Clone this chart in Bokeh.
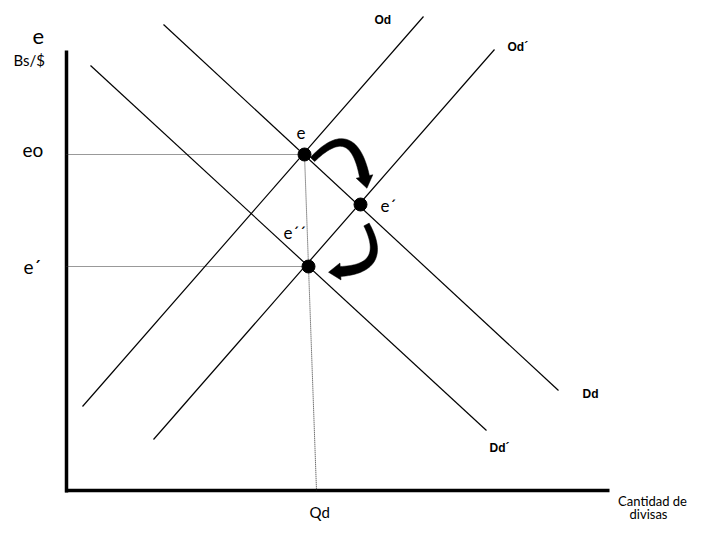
import numpy as np
from bokeh.plotting import figure
from bokeh.models import Range1d
from bokeh.embed import file_html
from bokeh.resources import INLINE
from bokeh.core.properties import value

# ---- diagram data (diagram units, origin at the axes corner) ----
axis_x_end = 543
axis_y_end = 440

curve_names = ["Dd", "Dd\u00b4", "Od", "Od\u00b4"]
curve_x0 = [97, 24, 16, 87]
curve_y0 = [466, 425, 84, 51]
curve_x1 = [492, 420, 357, 428]
curve_y1 = [100, 60, 474, 441]

curve_label_x = [516, 423, 308, 441]
curve_label_y = [93, 39, 467, 440]

eq_names = ["e", "e\u00b4", "e\u00b4\u00b4"]
eq_x = [238, 294, 242]
eq_y = [336, 286, 224]
eq_label_x = [230, 314, 217]
eq_label_y = [353, 280, 253]

# dotted guide lines
guide_x0 = [0, 0, 238]
guide_y0 = [336, 224, 336]
guide_x1 = [238, 242, 250]
guide_y1 = [336, 224, 0]

# axis texts
axis_texts = ["e", "Bs/$", "eo", "e\u00b4"]
axis_text_x = [-34, -53, -44, -43]
axis_text_y = [447, 426, 335, 218]
axis_text_size = [22, 15, 19, 19]

qd_text = "Qd"
qd_x, qd_y = 243, -26
xlabel_lines = ["Cantidad de", "divisas"]
xlabel_x = [586, 582]
xlabel_y = [-14, -27]

# curved arrows: start, control, end (diagram units)
arrows = [
    dict(p0=(246, 331), c=(286, 372), p1=(298, 314)),
    dict(p0=(300, 266), c=(323, 222), p1=(274, 219)),
]

BASE_SHIFT = 0.3  # compensates the renderer's baseline offset (fraction of font size)


def lift(ys, size):
    return [y + BASE_SHIFT * size for y in ys]


W, H = 690, 524
p = figure(width=W, height=H, output_backend="svg", toolbar_location=None,
           x_range=Range1d(-66, 624), y_range=Range1d(-34, 490),
           min_border=0, background_fill_color="white")
p.axis.visible = False
p.grid.visible = False
p.outline_line_color = None

# axes
p.line([0, 0], [-2, axis_y_end], line_color="black", line_width=3.5)
p.line([-1.5, axis_x_end], [0, 0], line_color="black", line_width=3.5)

# guides
p.segment(guide_x0, guide_y0, guide_x1, guide_y1, line_color="#333333",
          line_width=1, line_dash="1 1")

# supply/demand curves
p.segment(curve_x0, curve_y0, curve_x1, curve_y1, line_color="black", line_width=1.2)

# curve labels
p.text(curve_label_x, lift(curve_label_y, 12), text=curve_names,
       text_font=value("Liberation Sans"), text_font_style="bold",
       text_font_size="12px", text_align="left", text_baseline="alphabetic",
       text_color="black")

# arrows
def arrow_poly(p0, c, p1, w0=6.0, w1=10.0, head_len=12.0, head_w=17.0, n=40):
    p0 = np.array(p0, float); c = np.array(c, float); p1 = np.array(p1, float)
    t = np.linspace(0, 1, n)[:, None]
    pts = (1 - t) ** 2 * p0 + 2 * (1 - t) * t * c + t ** 2 * p1
    d = 2 * (1 - t) * (c - p0) + 2 * t * (p1 - c)
    d = d / np.linalg.norm(d, axis=1, keepdims=True)
    nrm = np.column_stack([-d[:, 1], d[:, 0]])
    w = (w0 + (w1 - w0) * t) / 2
    left = pts + nrm * w
    right = pts - nrm * w
    u = d[-1]; nn = nrm[-1]
    b1 = p1 + nn * head_w / 2
    b2 = p1 - nn * head_w / 2
    tip = p1 + u * head_len
    poly = np.vstack([left, b1, tip, b2, right[::-1]])
    return poly[:, 0], poly[:, 1]

for a in arrows:
    xs, ys = arrow_poly(a["p0"], a["c"], a["p1"])
    p.patch(xs, ys, fill_color="black", line_color="black", line_width=0.5)

# equilibrium points
p.scatter(eq_x, eq_y, size=13, fill_color="black", line_color="black")
p.text(eq_label_x, lift(eq_label_y, 17), text=eq_names, text_font=value("Lato"),
       text_font_size="17px", text_align="left", text_baseline="alphabetic",
       text_color="black")

# axis texts
for t_, x_, y_, s_ in zip(axis_texts, axis_text_x, axis_text_y, axis_text_size):
    p.text([x_], lift([y_], s_), text=[t_], text_font=value("Lato"),
           text_font_size=f"{s_}px", text_align="left", text_baseline="alphabetic",
           text_color="black")

p.text([qd_x], lift([qd_y], 15), text=[qd_text], text_font=value("Lato"),
       text_font_size="15px", text_align="left", text_baseline="alphabetic",
       text_color="black")
p.text(xlabel_x, lift(xlabel_y, 13), text=xlabel_lines, text_font=value("Lato"),
       text_font_size="13px", text_align="center", text_baseline="alphabetic",
       text_color="black")

open("out.html", "w").write(file_html(p, INLINE))
